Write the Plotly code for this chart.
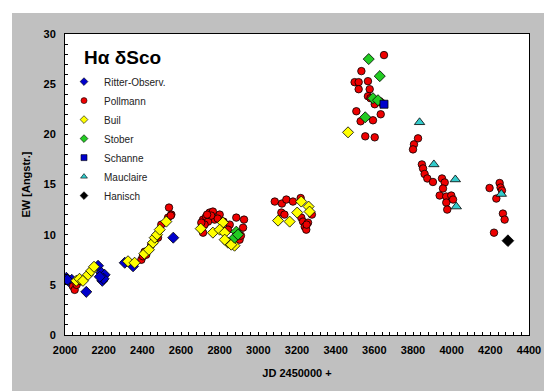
import plotly.graph_objects as go

# ---------------- data ----------------
ritter_x = [2007, 2024, 2035, 2012, 2110, 2171, 2188, 2205, 2193, 2200, 2180, 2309, 2352, 2560]
ritter_y = [5.7, 5.3, 5.5, 5.5, 4.3, 6.9, 6.2, 6.0, 5.4, 5.6, 5.8, 7.2, 6.85, 9.7]

pollmann_x = [2041, 2050, 2060, 2084,
              2395, 2403, 2412, 2446, 2481, 2498, 2533, 2550, 2538, 2547, 2420, 2460,
              2714, 2730, 2748, 2765, 2800, 2774, 2740, 2722, 2714, 2852, 2886, 2926, 2921, 2843,
              2903, 2790, 2756, 2735, 2705, 2820, 2910,
              3085, 3122, 3145, 3179, 3219, 3277, 3119, 3135, 3222, 3231, 3240, 3257, 3248, 3250,
              3650, 3533, 3498, 3519, 3567, 3519, 3576, 3567, 3602, 3628, 3640, 3507, 3633, 3529,
              3593, 3553, 3602, 3580,
              3826, 3805, 3800, 3846, 3852, 3860, 3874, 3903, 3950, 3964, 3955, 3938, 3972, 3998,
              4007, 3972, 3977,
              4196, 4248, 4253, 4260, 4231, 4265, 4274, 4219]
pollmann_y = [4.85, 4.5, 5.0, 5.35,
              7.5, 7.85, 8.3, 9.0, 9.7, 11.0, 11.7, 12.0, 12.7, 11.9, 8.0, 9.3,
              11.5, 11.8, 12.2, 12.3, 12.0, 11.5, 11.3, 11.0, 10.2, 11.0, 11.7, 11.5, 10.7, 10.5,
              9.5, 11.6, 11.9, 12.0, 11.2, 11.3, 9.9,
              13.3, 13.1, 13.5, 13.3, 13.65, 12.0, 12.2, 12.0, 11.7, 11.3, 10.8, 11.2, 10.5, 11.0,
              27.9, 26.3, 25.2, 25.2, 25.3, 24.5, 24.5, 23.8, 23.0, 23.3, 23.1, 22.3, 22.0, 21.3,
              21.4, 19.8, 19.7, 23.6,
              19.6, 19.0, 18.5, 17.0, 16.6, 16.05, 15.6, 15.25, 15.6, 15.2, 14.6, 13.9, 13.8, 13.9,
              13.5, 13.2, 12.5,
              14.65, 15.15, 14.7, 14.4, 13.6, 12.1, 11.5, 10.2]

buil_x = [2058, 2075, 2093, 2119, 2136, 2150,
          2326, 2360, 2410, 2434, 2455, 2464, 2476, 2490, 2524,
          2702, 2765, 2817, 2800, 2826, 2843, 2877, 2826, 2860,
          3102, 3162, 3201, 3222, 3260, 3265,
          3464]
buil_y = [5.4, 5.6, 5.4, 6.0, 6.4, 6.8,
          7.35, 7.2, 8.1, 8.5, 9.2, 9.7, 10.0, 10.5, 11.3,
          10.6, 10.2, 11.2, 10.5, 10.2, 9.2, 8.9, 9.5, 9.0,
          11.4, 11.3, 12.2, 13.3, 12.8, 12.3,
          20.2]

stober_x = [2886, 2877, 2895, 3571, 3628, 3593, 3619, 3553]
stober_y = [10.3, 9.7, 10.0, 27.5, 25.8, 23.6, 23.4, 21.7]

schanne_x = [3650]
schanne_y = [23.0]

mauclaire_x = [3834, 3908, 4019, 4024, 4257]
mauclaire_y = [21.2, 17.0, 15.5, 12.8, 14.05]

hanisch_x = [4291]
hanisch_y = [9.4]

x_ticks = [2000, 2200, 2400, 2600, 2800, 3000, 3200, 3400, 3600, 3800, 4000, 4200, 4400]
y_ticks = [0, 5, 10, 15, 20, 25, 30]

# ---------------- figure ----------------
W, H = 552, 391
ML, MR, MT, MB = 57, 31, 26, 64
PW, PH = W - ML - MR, H - MT - MB

FONT = "Liberation Sans, Arial, sans-serif"
LINE = dict(color="#000000", width=0.8)

fig = go.Figure()

series = [
    ("Ritter-Observ.", ritter_x, ritter_y, "diamond", "#0000CC", 8.5),
    ("Pollmann", pollmann_x, pollmann_y, "circle", "#EE0000", 7.5),
    ("Buil", buil_x, buil_y, "diamond", "#FFFF00", 8.5),
    ("Stober", stober_x, stober_y, "diamond", "#22CC22", 8.5),
    ("Schanne", schanne_x, schanne_y, "square", "#0000CC", 8),
    ("Mauclaire", mauclaire_x, mauclaire_y, "triangle-up", "#33CCCC", 9),
    ("Hanisch", hanisch_x, hanisch_y, "diamond", "#000000", 9),
]

for name, xs, ys, sym, col, sz in series:
    fig.add_trace(go.Scatter(
        x=xs, y=ys, mode="markers", name=name, showlegend=False, legendgroup=name,
        marker=dict(symbol=sym, color=col, size=sz, line=LINE),
    ))
# legend entries with small symbols, as in the reference
for name, xs, ys, sym, col, sz in series:
    fig.add_trace(go.Scatter(
        x=[None], y=[None], mode="markers", name=name, legendgroup=name,
        marker=dict(symbol=sym, color=col, size=6, line=dict(color="#000000", width=0.6)),
    ))

def px2paper_x(px):
    return (px - ML) / PW

def px2paper_y(py):
    return (H - MB - py) / PH

shapes = [
    dict(type="rect", xref="paper", yref="paper", layer="below",
         x0=px2paper_x(4), x1=px2paper_x(548), y0=px2paper_y(385), y1=px2paper_y(5),
         fillcolor="#C0C0C0", line=dict(width=0)),
    dict(type="rect", xref="paper", yref="paper", layer="below",
         x0=0, x1=1, y0=0, y1=1, fillcolor="#FFFFFF", line=dict(width=0)),
]

fig.update_layout(
    width=W, height=H,
    margin=dict(l=ML, r=MR, t=MT, b=MB),
    paper_bgcolor="#FFFFFF", plot_bgcolor="rgba(0,0,0,0)",
    font=dict(family=FONT, color="#000000", size=11),
    shapes=shapes,
    showlegend=True,
    legend=dict(x=px2paper_x(56), y=0.89, xanchor="left", yanchor="top",
                bgcolor="rgba(0,0,0,0)", borderwidth=0,
                font=dict(family=FONT, size=10, color="#222222"),
                itemwidth=30, tracegroupgap=0),
    annotations=[dict(text="<b>Hα δSco</b>", xref="paper", yref="paper",
                      x=px2paper_x(74), y=px2paper_y(50), xanchor="left", yanchor="middle",
                      showarrow=False, font=dict(family=FONT, size=19, color="#000000"))],
)

fig.update_xaxes(
    range=[2000, 4400], tickvals=x_ticks, ticktext=[f"<b>{v}</b>" for v in x_ticks],
    automargin=False,
    showline=True, linecolor="#000000", linewidth=1, mirror=True,
    showgrid=False, zeroline=False,
    ticks="inside", ticklen=3, tickcolor="#000000",
    ticklabelstandoff=5,
    minor=dict(dtick=40, tick0=2000, ticks="inside", ticklen=3, tickcolor="#000000", showgrid=False),
    tickfont=dict(family=FONT, size=11, color="#000000"),
    title=dict(text="<b>JD 2450000 +</b>", font=dict(family=FONT, size=11, color="#000000"), standoff=14),
)
fig.update_yaxes(
    range=[0, 30], tickvals=y_ticks, ticktext=[f"<b>{v}</b>" for v in y_ticks],
    automargin=False,
    showline=True, linecolor="#000000", linewidth=1, mirror=True,
    showgrid=False, zeroline=False,
    ticks="inside", ticklen=3, tickcolor="#000000",
    ticklabelstandoff=6,
    minor=dict(dtick=1, tick0=0, ticks="inside", ticklen=3, tickcolor="#000000", showgrid=False),
    tickfont=dict(family=FONT, size=11, color="#000000"),
    title=dict(text="<b>EW [Angstr.]</b>", font=dict(family=FONT, size=11, color="#000000"), standoff=10),
)

fig.write_html("out.html")
